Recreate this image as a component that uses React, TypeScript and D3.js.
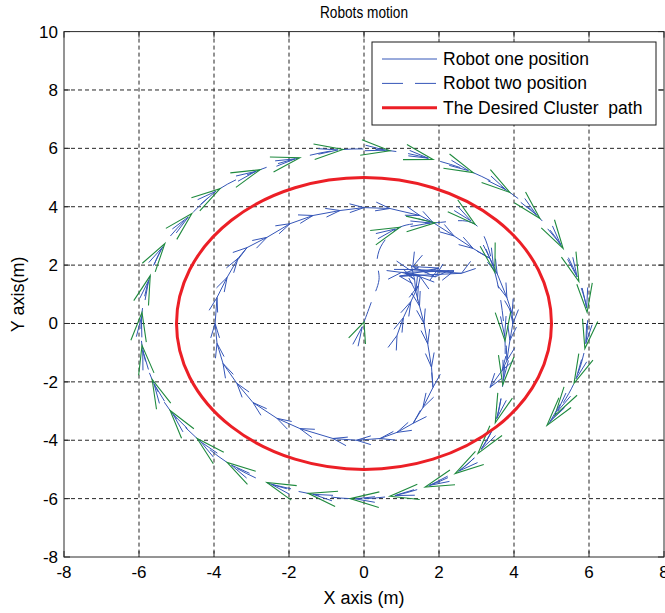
import React from "react";
import * as d3 from "d3";

type Pt = [number, number];

const WIDTH = 665;
const HEIGHT = 613;

// axis limits and ticks
const xLimits: Pt = [-8, 8];
const yLimits: Pt = [-8, 10];
const xTickValues = [-8, -6, -4, -2, 0, 2, 4, 6, 8];
const yTickValues = [-8, -6, -4, -2, 0, 2, 4, 6, 8, 10];

// desired cluster path: circle centre and radius
const clusterCentre: Pt = [0, 0];
const clusterRadius = 5;

// robot one: starts near (0.9,-0.4), wanders, then loops clockwise at r≈4
const robotOnePath: Pt[] = [
  [0.88, -0.41], [1.05, 0.2], [1.25, 0.75], [1.45, 1.3], [1.5, 1.6],
  [1.0, 1.75], [2.4, 1.8], [1.2, 1.85], [2.6, 1.72], [0.95, 1.62],
  [2.0, 1.9], [1.3, 1.95], [1.9, 1.6], [1.1, 1.72], [1.35, 1.5],
  [1.38, 1.1], [1.48, 0.6], [1.6, 0.0], [1.7, -0.7], [1.8, -1.5],
  [1.84, -2.19], [1.57, -2.88], [1.31, -3.42], [0.88, -3.73], [0.43, -3.94],
  [-0.2, -4.0], [-0.83, -3.94], [-1.71, -3.6], [-2.32, -3.25], [-2.96, -2.71],
  [-3.39, -2.05], [-3.76, -1.37], [-3.92, -0.68], [-3.97, 0.0], [-3.92, 0.89],
  [-3.65, 1.58], [-3.36, 2.23], [-3.12, 2.6], [-2.59, 2.95], [-1.97, 3.42],
  [-1.36, 3.7], [-0.64, 3.87], [0.0, 3.97], [0.69, 3.94], [1.49, 3.7],
  [1.84, 3.46], [2.4, 3.0], [2.91, 2.57], [3.36, 2.23], [3.55, 1.71],
  [3.81, 0.89], [3.95, 0.34], [3.97, 0.0], [3.89, -0.58], [3.81, -1.27],
  [3.68, -1.61], [3.36, -2.19],
];

// robot two: climbs from the origin, then spirals out to r≈6 clockwise
const robotTwoClimb: Pt[] = [
  [0.0, 0.05], [0.2, 0.75], [0.4, 1.5], [0.35, 2.2], [0.5, 2.75],
];
const robotTwoOrbit: Pt[] = [
  [0.96, 3.3], [1.9, 3.45], [2.96, 3.4], [3.49, 1.75], [3.76, -0.6],
  [3.7, -2.1], [3.5, -3.4], [3.04, -4.45], [2.43, -5.14], [1.63, -5.6],
  [0.69, -5.92], [-0.37, -6.0], [-1.49, -5.82], [-2.59, -5.45], [-3.65, -4.76],
  [-4.45, -3.94], [-5.17, -2.98], [-5.65, -1.92], [-5.92, -0.75], [-5.92, 0.38],
  [-5.7, 1.64], [-5.31, 2.74], [-4.59, 3.77], [-3.84, 4.62], [-2.77, 5.27],
  [-1.71, 5.68], [-0.56, 5.96], [0.69, 5.92], [1.84, 5.62], [2.91, 5.17],
  [3.89, 4.49], [4.69, 3.6], [5.31, 2.57], [5.73, 1.44], [5.95, 0.38],
  [5.89, -0.86], [5.6, -2.05], [5.09, -3.15], [4.88, -3.49],
];

const legendLabels = [
  "Robot one position",
  "Robot two position",
  "The Desired Cluster  path",
];

const BLUE = "#3556b8";
const GREEN = "#1f8a3e";
const RED = "#ec1f26";
const FONT = "'Liberation Sans', Arial, Helvetica, sans-serif";

const x = d3.scaleLinear().domain(xLimits).range([64, 664]);
const y = d3.scaleLinear().domain(yLimits).range([557, 31.6]);

const toPx = (p: Pt): Pt => [x(p[0]), y(p[1])];

// unit direction of travel at vertex i, in screen space
function heading(pts: Pt[], i: number): Pt {
  const a = toPx(pts[Math.max(0, i - 1)]);
  const b = toPx(pts[Math.min(pts.length - 1, i + 1)]);
  const dx = b[0] - a[0];
  const dy = b[1] - a[1];
  const n = Math.hypot(dx, dy) || 1;
  return [dx / n, dy / n];
}

// two barbs trailing back from the tip
function barbs(tip: Pt, dir: Pt, len: number, spreadDeg: number, back = 0): string {
  const base = Math.atan2(-dir[1], -dir[0]);
  const s = (spreadDeg * Math.PI) / 180;
  const tx = tip[0] - dir[0] * back;
  const ty = tip[1] - dir[1] * back;
  const p1: Pt = [tx + Math.cos(base + s) * len, ty + Math.sin(base + s) * len];
  const p2: Pt = [tx + Math.cos(base - s) * len, ty + Math.sin(base - s) * len];
  return `M${p1[0]},${p1[1]}L${tx},${ty}L${p2[0]},${p2[1]}`;
}

export default function App() {
  const line = d3
    .line<Pt>()
    .x((d) => x(d[0]))
    .y((d) => y(d[1]))
    .curve(d3.curveCatmullRom.alpha(0.5));
  const straight = d3
    .line<Pt>()
    .x((d) => x(d[0]))
    .y((d) => y(d[1]));

  const robotTwoPath = [...robotTwoClimb, ...robotTwoOrbit];

  const left = x(xLimits[0]);
  const right = x(xLimits[1]);
  const top = y(yLimits[1]);
  const bottom = y(yLimits[0]);
  const tickLen = 6;

  // robot two heads: the start point plus every orbit point
  const twoHeads: { tip: Pt; dir: Pt; wide: boolean }[] = [];
  twoHeads.push({ tip: toPx(robotTwoPath[0]), dir: heading(robotTwoPath, 0), wide: true });
  robotTwoOrbit.forEach((_, k) => {
    const i = robotTwoClimb.length + k;
    twoHeads.push({ tip: toPx(robotTwoPath[i]), dir: heading(robotTwoPath, i), wide: false });
  });

  return (
    <svg
      width={WIDTH}
      height={HEIGHT}
      style={{ position: "absolute", left: 0, top: 0, background: "#fff" }}
      fontFamily={FONT}
    >
      <rect x={0} y={0} width={WIDTH} height={HEIGHT} fill="#fff" />

      {/* grid */}
      <g stroke="#262626" strokeWidth={1} strokeDasharray="4 3">
        {xTickValues.slice(1, -1).map((t) => (
          <line key={"gx" + t} x1={x(t)} x2={x(t)} y1={top} y2={bottom} />
        ))}
        {yTickValues.slice(1, -1).map((t) => (
          <line key={"gy" + t} x1={left} x2={right} y1={y(t)} y2={y(t)} />
        ))}
      </g>

      {/* robot paths */}
      <path d={straight(robotOnePath) || ""} fill="none" stroke={BLUE} strokeWidth={1} />
      <path
        d={line(robotTwoPath) || ""}
        fill="none"
        stroke={BLUE}
        strokeWidth={1}
        strokeDasharray="21 12"
      />

      {/* robot one heading marks */}
      <g fill="none" stroke={BLUE} strokeWidth={1}>
        {robotOnePath.map((p, i) => (
          <path key={"h1" + i} d={barbs(toPx(p), heading(robotOnePath, i), 15, 17)} />
        ))}
      </g>

      {/* robot two heading marks */}
      <g fill="none" strokeWidth={1.1}>
        {twoHeads.map((h, i) => (
          <g key={"h2" + i}>
            <path d={barbs(h.tip, h.dir, 20, 8, 5)} stroke={BLUE} strokeWidth={1} />
            <path
              d={h.wide ? barbs(h.tip, h.dir, 22, 24) : barbs(h.tip, h.dir, 30, 15)}
              stroke={GREEN}
            />
          </g>
        ))}
      </g>

      {/* desired cluster path */}
      <ellipse
        cx={x(clusterCentre[0])}
        cy={y(clusterCentre[1])}
        rx={x(clusterRadius) - x(0)}
        ry={y(0) - y(clusterRadius)}
        fill="none"
        stroke={RED}
        strokeWidth={3}
      />

      {/* axes box and ticks */}
      <g stroke="#2b2b2b" strokeWidth={1} fill="none">
        <rect x={left} y={top} width={right - left} height={bottom - top} />
        {xTickValues.map((t) => (
          <g key={"tx" + t}>
            <line x1={x(t)} x2={x(t)} y1={bottom} y2={bottom - tickLen} />
            <line x1={x(t)} x2={x(t)} y1={top} y2={top + tickLen} />
          </g>
        ))}
        {yTickValues.map((t) => (
          <g key={"ty" + t}>
            <line x1={left} x2={left + tickLen} y1={y(t)} y2={y(t)} />
            <line x1={right} x2={right - tickLen} y1={y(t)} y2={y(t)} />
          </g>
        ))}
      </g>

      {/* tick labels */}
      <g fontSize={17} fill="#000">
        {xTickValues.map((t) => (
          <text key={"lx" + t} x={x(t)} y={bottom + 21} textAnchor="middle">
            {t}
          </text>
        ))}
        {yTickValues.map((t) => (
          <text key={"ly" + t} x={left - 6} y={y(t) + 6} textAnchor="end">
            {t}
          </text>
        ))}
      </g>

      {/* title and axis labels */}
      <text
        x={(left + right) / 2}
        y={18}
        textAnchor="middle"
        fontSize={17}
        textLength={88}
        lengthAdjust="spacingAndGlyphs"
      >
        Robots motion
      </text>
      <text x={(left + right) / 2} y={604} textAnchor="middle" fontSize={18}>
        X axis (m)
      </text>
      <text
        transform={`translate(24,${(top + bottom) / 2}) rotate(-90)`}
        textAnchor="middle"
        fontSize={18}
      >
        Y axis(m)
      </text>

      {/* legend */}
      <g>
        <rect x={372} y={42} width={284} height={83} fill="#fff" stroke="#1a1a1a" strokeWidth={1} />
        {legendLabels.map((label, i) => {
          const ly = 59 + i * 24.4;
          const stroke = i === 2 ? RED : BLUE;
          return (
            <g key={label}>
              <line
                x1={382}
                x2={437}
                y1={ly}
                y2={ly}
                stroke={stroke}
                strokeWidth={i === 2 ? 3 : 1}
                strokeDasharray={i === 1 ? "21 12" : undefined}
              />
              <text x={443} y={ly + 6} fontSize={17.5} style={{ whiteSpace: "pre" }}>
                {label}
              </text>
            </g>
          );
        })}
      </g>
    </svg>
  );
}
